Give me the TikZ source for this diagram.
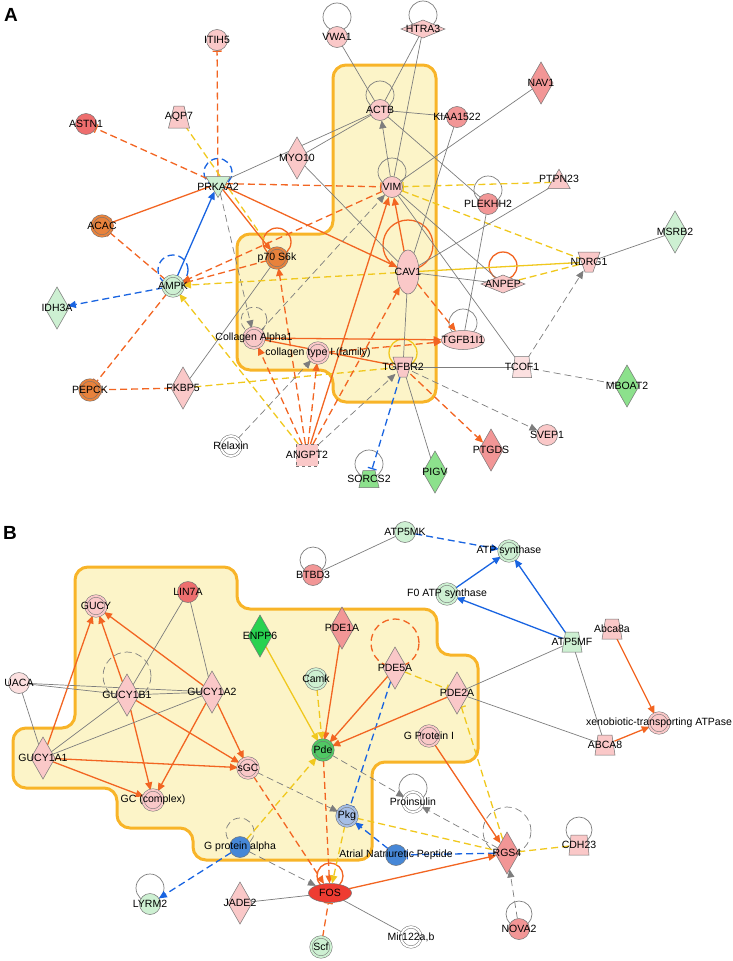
\documentclass[tikz,border=0pt]{standalone}
\usepackage{fontspec}
\setmainfont{Liberation Sans}
\setsansfont{Liberation Sans}
\usetikzlibrary{shapes.geometric,arrows.meta}
\pgfdeclarelayer{bg}\pgfdeclarelayer{edg}\pgfsetlayers{bg,edg,main}
\definecolor{cOr}{RGB}{242,101,34}
\definecolor{cYe}{RGB}{240,200,30}
\definecolor{cBl}{RGB}{25,100,225}
\definecolor{cGr}{RGB}{125,125,125}
\definecolor{regF}{RGB}{252,244,200}
\definecolor{regD}{RGB}{248,180,40}
\definecolor{nPink}{RGB}{250,200,200}
\definecolor{nLtPink}{RGB}{252,224,224}
\definecolor{nSalm}{RGB}{242,150,150}
\definecolor{nRed2}{RGB}{238,110,110}
\definecolor{nRed}{RGB}{238,60,50}
\definecolor{nOr}{RGB}{232,130,60}
\definecolor{nLtGr}{RGB}{205,240,210}
\definecolor{nGr}{RGB}{140,225,140}
\definecolor{nBrGr}{RGB}{40,210,80}
\definecolor{nPde}{RGB}{80,200,100}
\definecolor{nBlu}{RGB}{70,135,215}
\definecolor{nLtBl}{RGB}{165,190,230}
\newcommand\nd[5]{\node[#1,fill=#2] (#3) at (#4) {};\node[lbl] at (#4) {#5};}
\newcommand\ndc[4]{\node[cplx,fill=#1,double=#1] (#2) at (#3) {};\node[lbl] at (#3) {#4};}
% trapezoid: name, pos, colour, half top width, half bottom width, half height, label
\newcommand\trp[7]{\node[circle, inner sep=0pt, minimum size=20pt] (#1) at (#2) {};
 \filldraw[draw=black!55, line width=0.5pt, fill=#3]
  ([xshift=-#4pt,yshift=#6pt]#1.center) -- ([xshift=#4pt,yshift=#6pt]#1.center) --
  ([xshift=#5pt,yshift=-#6pt]#1.center) -- ([xshift=-#5pt,yshift=-#6pt]#1.center) -- cycle;
 \node[lbl] at (#2) {#7};}
\newcommand\sloop[4]{\draw[#4] ([yshift=#2pt]#1.center) circle[radius=#3pt];}
\begin{document}
\begin{tikzpicture}[x=1pt,y=-1pt,
 base/.style={draw=black!55, line width=0.5pt, inner sep=0pt, outer sep=0pt},
 circ/.style={base, circle, minimum size=21pt},
 cplx/.style={base, circle, minimum size=20pt, double distance=2pt},
 dia/.style={base, diamond, minimum width=24pt, minimum height=42pt},
 hdia/.style={base, diamond, minimum width=44pt, minimum height=18pt},
 dtri/.style={base, regular polygon, regular polygon sides=3, shape border rotate=180, minimum size=28pt, yshift=3.5pt},
 utri/.style={base, regular polygon, regular polygon sides=3, minimum size=26pt, yshift=-3.2pt},
 vell/.style={base, ellipse, minimum width=22pt, minimum height=44pt},
 hell/.style={base, ellipse, minimum width=43pt, minimum height=19pt},
 sq/.style={base, rectangle, minimum size=22pt, dashed},
 lbl/.style={inner sep=0pt, font=\fontsize{10.5}{12}\selectfont},
 eG/.style={draw=cGr, line width=0.7pt},
 eO/.style={draw=cOr, line width=1.3pt},
 eY/.style={draw=cYe, line width=1.3pt},
 eB/.style={draw=cBl, line width=1.3pt},
 dsh/.style={dash pattern=on 7pt off 4pt},
 arw/.style={-{Triangle[length=8pt,width=7pt]}},
 barw/.style={-{Bar[width=9pt]}}]
\useasboundingbox (0,0) rectangle (733,961);
\node[font=\bfseries\fontsize{19}{22}\selectfont] (labA) at (11,15) {A};
\node[font=\bfseries\fontsize{19}{22}\selectfont] (labB) at (10,533) {B};
% regions
\begin{pgfonlayer}{bg}
\draw[regD, fill=regF, line width=3pt, rounded corners=13pt]
 (385,65) -- (436,65) -- (436,402) -- (333,402) -- (333,370) -- (237,370) -- (237,234) -- (333,234) -- (333,65) -- cycle;
\draw[regD, fill=regF, line width=3pt, rounded corners=13pt]
 (150,567) -- (237,567) -- (237,609) -- (437,609) -- (437,655) -- (478,655) -- (478,762) -- (372,762) -- (372,860) -- (193,860) -- (193,828) -- (117,828) -- (117,788) -- (13,788) -- (13,728) -- (75,728) -- (75,567) -- cycle;
\end{pgfonlayer}
% ---------- panel A nodes
\nd{circ}{nPink}{itih}{217,40}{ITIH5}
\nd{circ}{nPink}{vwa}{337,37}{VWA1}
\nd{hdia}{nPink}{htra}{423,29}{HTRA3}
\nd{circ}{nRed2}{astn}{86,124}{ASTN1}
\trp{aqp}{179,117}{nPink}{5}{10.5}{11}{AQP7}
\nd{dia}{nPink}{myo}{297,158}{MYO10}
\nd{dia}{nSalm}{nav}{541,83}{NAV1}
\nd{circ}{nPink}{actb}{380,110}{ACTB}
\nd{circ}{nSalm}{kiaa}{457,117}{KIAA1522}
\nd{dtri}{nLtGr}{prk}{218,187}{PRKAA2}
\nd{circ}{nPink}{vim}{392,187}{VIM}
\nd{utri}{nPink}{ptpn}{559,179}{PTPN23}
\nd{circ}{nSalm}{plek}{488,204}{PLEKHH2}
\nd{dia}{nLtGr}{msrb}{675,232}{MSRB2}
\ndc{nOr}{acac}{102,226}{ACAC}
\ndc{nOr}{p70}{277,258}{p70 S6k}
\nd{vell}{nPink}{cav}{408,272}{CAV1}
\nd{hdia}{nPink}{anpep}{503,284}{ANPEP}
\trp{ndrg}{589,262}{nPink}{11}{4}{10}{NDRG1}
\ndc{nLtGr}{ampk}{173,286}{AMPK}
\nd{dia}{nLtGr}{idh}{57,308}{IDH3A}
\ndc{nPink}{colA}{254,338}{Collagen Alpha1}
\ndc{nPink}{colT}{318,353}{collagen type I (family)}
\nd{hell}{nPink}{tgfb1}{463,340}{TGFB1I1}
\trp{tgfbr}{403,367}{nPink}{10}{4}{10}{TGFBR2}
\trp{tcof}{522,367}{nLtPink}{7}{9.5}{10.5}{TCOF1}
\nd{dia}{nGr}{mboat}{627,386}{MBOAT2}
\ndc{nOr}{pepck}{90,390}{PEPCK}
\nd{dia}{nPink}{fkbp}{183,388}{FKBP5}
\nd{circ}{nPink}{svep}{547,435}{SVEP1}
\nd{dia}{nSalm}{ptgds}{491,450}{PTGDS}
\ndc{white}{relax}{231,446}{Relaxin}
\nd{sq}{nPink}{angpt}{307,455}{ANGPT2}
\trp{sorcs}{369,479}{nGr}{6}{10}{8.5}{SORCS2}
\nd{dia}{nGr}{pigv}{435,472}{PIGV}
% ---------- panel B nodes
\nd{circ}{nSalm}{btbd}{313,575}{BTBD3}
\nd{circ}{nLtGr}{atpmk}{405,532}{ATP5MK}
\ndc{nLtGr}{atps}{509,551}{ATP synthase}
\ndc{nLtGr}{fzero}{447,594}{F0 ATP synthase}
\trp{atpmf}{572,642}{nLtGr}{6.5}{10}{10}{ATP5MF}
\trp{abcaa}{612,629}{nPink}{6.5}{10}{10}{Abca8a}
\ndc{nPink}{xeno}{659,723}{xenobiotic-transporting ATPase}
\trp{abca}{605,745}{nPink}{7}{10}{10}{ABCA8}
\ndc{nPink}{gucy}{96,606}{GUCY}
\nd{circ}{nRed2}{lin}{188,592}{LIN7A}
\nd{dia}{nBrGr}{enpp}{260,636}{ENPP6}
\nd{dia}{nSalm}{pdea}{342,628}{PDE1A}
\ndc{nLtGr}{camk}{316,679}{Camk}
\nd{dia}{nPink}{pdef}{395,668}{PDE5A}
\nd{dia}{nPink}{pdeb}{457,693}{PDE2A}
\nd{circ}{nLtPink}{uaca}{19,683}{UACA}
\nd{dia}{nPink}{gbb}{127,695}{GUCY1B1}
\nd{dia}{nPink}{gab}{212,692}{GUCY1A2}
\nd{dia}{nPink}{gaa}{43,758}{GUCY1A1}
\ndc{nPink}{sgc}{248,768}{sGC}
\ndc{nPink}{gcc}{153,800}{GC (complex)}
\ndc{nPde}{pde}{323,750}{Pde}
\ndc{nPink}{gpi}{429,736}{G Protein I}
\ndc{nLtBl}{pkg}{347,816}{Pkg}
\ndc{white}{proins}{413,802}{Proinsulin}
\nd{circ}{nBlu}{gpa}{240,847}{G protein alpha}
\nd{circ}{nBlu}{anp}{396,855}{Atrial Natriuretic Peptide}
\nd{dia}{nSalm}{rgs}{507,853}{RGS4}
\trp{cdh}{579,845}{nPink}{8}{10}{10}{CDH23}
\nd{circ}{nLtGr}{lyrm}{150,904}{LYRM2}
\nd{dia}{nPink}{jade}{240,903}{JADE2}
\nd{hell}{nRed}{fos}{330,893}{FOS}
\ndc{nLtGr}{scf}{321,947}{Scf}
\ndc{white}{mir}{411,937}{Mir122a,b}
\nd{circ}{nSalm}{nova}{519,929}{NOVA2}
% ---------- edges
\begin{pgfonlayer}{edg}
% self loops A
\sloop{prk}{11}{14}{eB,dsh}
\sloop{vwa}{20}{14}{eG}
\sloop{htra}{14}{14}{eG}
\sloop{actb}{15}{14}{eG}
\sloop{vim}{15}{14}{eG}
\sloop{plek}{14}{14}{eG}
\sloop{p70}{16}{14}{eO}
\sloop{cav}{27}{25}{eO}
\sloop{anpep}{18}{14}{eO}
\sloop{ampk}{16}{15}{eB,dsh}
\sloop{colA}{18}{13}{eG,dsh}
\sloop{tgfb1}{17}{14}{eG}
\sloop{tgfbr}{14}{14}{eY}
\sloop{sorcs}{15}{14}{eG}
% self loops B
\sloop{btbd}{15}{13}{eG}
\sloop{lyrm}{16}{14}{eG}
\sloop{proins}{14}{14}{eG}
\sloop{nova}{15}{13}{eG}
\sloop{cdh}{15}{13}{eG}
\sloop{gpa}{15}{14}{eG,dsh}
\sloop{gbb}{19}{24}{eG,dsh}
\sloop{pdef}{25}{24}{eO,dsh}
\sloop{rgs}{22}{24}{eG,dsh}
\sloop{fos}{17}{13}{eO}
% A connectors
\draw[eO,dsh,barw] (prk) -- (itih);
\draw[eO,dsh,barw] (prk) -- (astn);
\draw[eY,dsh] (aqp) -- (p70);
\draw[eG] (prk) -- (actb);
\draw[eG] (myo) -- (actb);
\draw[eG] (myo) -- (cav);
\draw[eO,dsh,barw] (prk) -- (vim);
\draw[eO,arw] (prk) -- (cav);
\draw[eO,arw] (prk) -- (p70);
\draw[eG,dsh,arw] (prk) -- (colA);
\draw[eO,barw] (prk) -- (acac);
\draw[eB,arw] (ampk) -- (prk);
\draw[eO,dsh,barw] (ampk) -- (acac);
\draw[eB,dsh,arw] (ampk) -- (idh);
\draw[eO,dsh,barw] (ampk) -- (pepck);
\draw[eO,dsh,barw] (fkbp) -- (pepck);
\draw[eY,dsh] (fkbp) -- (tgfbr);
\draw[eG] (fkbp) -- (p70);
\draw[eO,dsh,arw] (p70) -- (ampk);
\draw[eO,dsh,arw] (vim) -- (ampk);
\draw[eY,dsh,arw] (cav) -- (ampk);
\draw[eY] (ndrg) -- (cav);
\draw[eY,dsh] (ndrg) -- (anpep);
\draw[eY,dsh] (vim) -- (ndrg);
\draw[eY,dsh,barw] (ptpn) -- (vim);
\draw[eG,arw] (vim) -- (actb);
\draw[eG] (htra) -- (vim);
\draw[eG] (htra) -- (actb);
\draw[eG] (actb) -- (kiaa);
\draw[eG] (kiaa) -- (cav);
\draw[eG] (plek) -- (tgfb1);
\draw[eG] (actb) -- (plek);
\draw[eG] (vwa) -- (actb);
\draw[eG] (ptpn) -- (cav);
\draw[eG] (nav) -- (vim);
\draw[eG] (vim) -- (anpep);
\draw[eG] (vim) -- (tcof);
\draw[eG] (cav) -- (anpep);
\draw[eG] (cav) -- (tgfbr);
\draw[eO,dsh,arw] (cav) -- (tgfb1);
\draw[eO,arw] (cav) -- (vim);
\draw[eO,arw] (angpt) -- (vim);
\draw[eG,dsh,arw] (colA) -- (vim);
\draw[eO,dsh,arw] (angpt) -- (p70);
\draw[eO,dsh,arw] (angpt) -- (colA);
\draw[eO,dsh,arw] (angpt) -- (colT);
\draw[eO,dsh,arw] (angpt) -- (cav);
\draw[eY,dsh,arw] (angpt) -- (ampk);
\draw[eG,dsh,arw] (angpt) -- (tgfbr);
\draw[eG,dsh,arw] (relax) -- (colT);
\draw[eO,arw] (colA) -- (tgfb1);
\draw[eO,dsh,arw] (colT) -- (tgfb1);
\draw[eO] (colA) -- (tgfbr);
\draw[eG] (tgfbr) -- (tcof);
\draw[eO,dsh,arw] (tgfbr) -- (ptgds);
\draw[eG,dsh,arw] (tgfbr) -- (svep);
\draw[eG] (tgfbr) -- (pigv);
\draw[eB,dsh,barw] (tgfbr) -- (sorcs);
\draw[eG,dsh,arw] (tcof) -- (ndrg);
\draw[eG,dsh] (tcof) -- (mboat);
\draw[eG] (ndrg) -- (msrb);
% B connectors
\draw[eB,dsh,arw] (atpmk) -- (atps);
\draw[eG] (btbd) -- (atpmk);
\draw[eB,arw] (fzero) -- (atps);
\draw[eB,arw] (atpmf) -- (atps);
\draw[eB,arw] (atpmf) -- (fzero);
\draw[eG] (atpmf) -- (pdeb);
\draw[eG] (atpmf) -- (abca);
\draw[eO,arw] (abcaa) -- (xeno);
\draw[eO,arw] (abca) -- (xeno);
\draw[eG] (pdeb) -- (abca);
\draw[eY,dsh,barw] (pdef) -- (pdeb);
\draw[eO,arw] (pdef) -- (pde);
\draw[eB,dsh,barw] (pdef) -- (pkg);
\draw[eO,arw] (pdea) -- (pde);
\draw[eY,arw] (enpp) -- (pde);
\draw[eY,dsh,arw] (camk) -- (pde);
\draw[eO,arw] (pdeb) -- (pde);
\draw[eY,dsh,barw] (rgs) -- (pdeb);
\draw[eO,arw] (gpi) -- (rgs);
\draw[eY,dsh] (pkg) -- (rgs);
\draw[eB,dsh,arw] (anp) -- (pkg);
\draw[eB,dsh,barw] (rgs) -- (anp);
\draw[eG,dsh,arw] (rgs) -- (proins);
\draw[eO,arw] (fos) -- (rgs);
\draw[eY,dsh] (rgs) -- (cdh);
\draw[eG,dsh,arw] (nova) -- (rgs);
\draw[eG,dsh,arw] (pde) -- (proins);
\draw[eO,dsh,arw] (pde) -- (fos);
\draw[eG,dsh,arw] (sgc) -- (pkg);
\draw[eO,dsh,arw] (sgc) -- (fos);
\draw[eY,dsh,arw] (gpa) -- (pde);
\draw[eG,dsh,arw] (gpa) -- (fos);
\draw[eB,dsh,arw] (gpa) -- (lyrm);
\draw[eY,dsh,arw] (pkg) -- (fos);
\draw[eG] (fos) -- (jade);
\draw[eG] (fos) -- (mir);
\draw[eO,dsh,barw] (scf) -- (fos);
\draw[eO,arw] (gaa) -- (gucy);
\draw[eO,arw] (gbb) -- (gucy);
\draw[eO,arw] (gab) -- (gucy);
\draw[eO,arw] (gaa) -- (sgc);
\draw[eO,arw] (gaa) -- (gcc);
\draw[eO,arw] (gbb) -- (gcc);
\draw[eO,arw] (gab) -- (gcc);
\draw[eO,arw] (gbb) -- (sgc);
\draw[eO,arw] (gab) -- (sgc);
\draw[eG] (uaca) -- (gbb);
\draw[eG] (uaca) -- (gab);
\draw[eG] (uaca) -- (gaa);
\draw[eG] (lin) -- (gbb);
\draw[eG] (lin) -- (gab);
\draw[eG] (gaa) -- (gbb);
\draw[eG] (gaa) -- (gab);
\draw[eG] (gbb) -- (gab);
\end{pgfonlayer}
\end{tikzpicture}
\end{document}
